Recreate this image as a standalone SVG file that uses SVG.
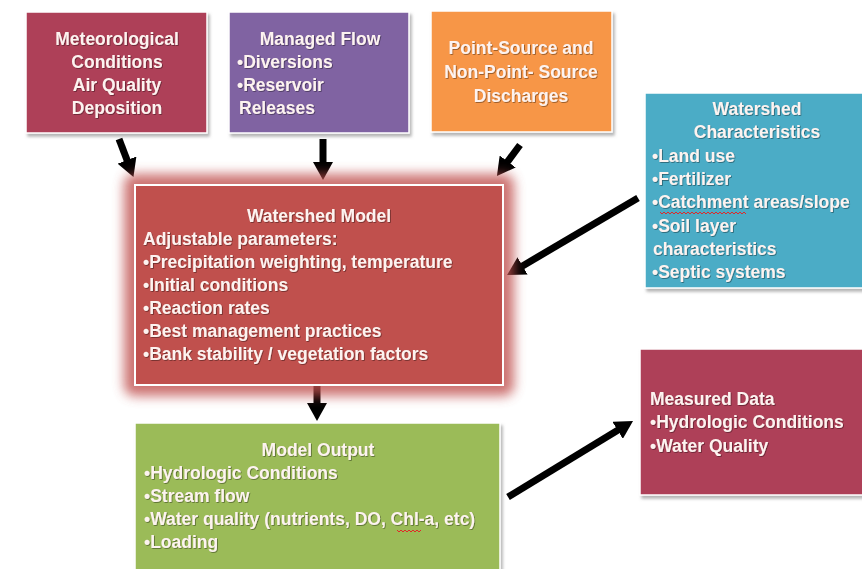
<svg xmlns="http://www.w3.org/2000/svg" width="862" height="569" viewBox="0 0 862 569">
<defs>
<filter id="sh" x="-10%" y="-10%" width="120%" height="130%">
<feDropShadow dx="2" dy="3" stdDeviation="1.5" flood-color="#777" flood-opacity="0.55"/>
</filter>
<filter id="glow" x="-20%" y="-30%" width="140%" height="160%">
<feGaussianBlur stdDeviation="6"/>
</filter>
<filter id="ts" x="-5%" y="-20%" width="110%" height="150%">
<feDropShadow dx="0.8" dy="0.8" stdDeviation="0.4" flood-color="#000" flood-opacity="0.45"/>
</filter>
<marker id="ah" viewBox="0 0 18 20" markerWidth="18" markerHeight="20" refX="1" refY="10" orient="auto" markerUnits="userSpaceOnUse">
<path d="M0,0 L18,10 L0,20 z" fill="#000"/>
</marker>
<style>
.box{stroke:#fff;stroke-width:1.5;filter:url(#sh)}
.t{font-family:"Liberation Sans",Arial,sans-serif;font-weight:bold;font-size:17.5px;fill:#FDF3F0;filter:url(#ts)}
.c{text-anchor:middle}
.arr{stroke:#000;stroke-width:7;fill:none;marker-end:url(#ah)}
.sq{stroke:#E02828;stroke-width:1;fill:none}
</style>
</defs>
<rect width="862" height="569" fill="#fff"/>
<g id="connectors">
<line class="arr" x1="119" y1="139" x2="127.4" y2="161"/>
<line class="arr" x1="323" y1="139" x2="323" y2="163"/>
<line class="arr" x1="520" y1="145" x2="507.1" y2="162.3"/>
<line class="arr" x1="638" y1="198" x2="521.7" y2="266.4"/>
<line class="arr" x1="317" y1="386" x2="317" y2="404"/>
<line class="arr" x1="508" y1="497" x2="618.5" y2="429.8"/>
</g>
<g id="meteorological">
<rect class="box" x="26" y="12" width="181" height="121" fill="#AE4159"/>
<text class="t c" x="117" y="45">Meteorological</text>
<text class="t c" x="117" y="68">Conditions</text>
<text class="t c" x="117" y="91">Air Quality</text>
<text class="t c" x="117" y="114">Deposition</text>
</g>
<g id="managed-flow">
<rect class="box" x="229" y="12" width="180" height="121" fill="#8064A2"/>
<text class="t c" x="320" y="45">Managed Flow</text>
<text class="t" x="237" y="68">•Diversions</text>
<text class="t" x="237" y="91">•Reservoir</text>
<text class="t" x="239" y="114">Releases</text>
</g>
<g id="point-source">
<rect class="box" x="431" y="11" width="181" height="121" fill="#F79646"/>
<text class="t c" x="521" y="54">Point-Source and</text>
<text class="t c" x="521" y="78">Non-Point- Source</text>
<text class="t c" x="521" y="102">Discharges</text>
</g>
<g id="watershed-characteristics">
<rect class="box" x="645" y="93" width="230" height="195" fill="#4BACC6"/>
<text class="t c" x="757" y="115">Watershed</text>
<text class="t c" x="757" y="138">Characteristics</text>
<text class="t" x="652" y="162">•Land use</text>
<text class="t" x="652" y="185">•Fertilizer</text>
<text class="t" x="652" y="208">•Catchment areas/slope</text>
<path class="sq" d="M660,212 l2,2 l2,-2 l2,2 l2,-2 l2,2 l2,-2 l2,2 l2,-2 l2,2 l2,-2 l2,2 l2,-2 l2,2 l2,-2 l2,2 l2,-2 l2,2 l2,-2 l2,2 l2,-2 l2,2 l2,-2 l2,2 l2,-2 l2,2 l2,-2 l2,2 l2,-2 l2,2 l2,-2 l2,2 l2,-2 l2,2 l2,-2 l2,2 l2,-2 l2,2 l2,-2 l2,2 l2,-2 l2,2 l2,-2 l2,2"/>
<text class="t" x="652" y="232">•Soil layer</text>
<text class="t" x="653" y="255">characteristics</text>
<text class="t" x="652" y="278">•Septic systems</text>
</g>
<g id="watershed-model">
<rect x="124" y="174" width="390" height="222" rx="10" fill="#C0504D" opacity="0.8" filter="url(#glow)"/>
<rect x="135" y="185" width="368" height="200" fill="#C0504D" stroke="#fff" stroke-width="2"/>
<text class="t c" x="319" y="222">Watershed Model</text>
<text class="t" x="143" y="245">Adjustable parameters:</text>
<text class="t" x="143" y="268">•Precipitation weighting, temperature</text>
<text class="t" x="143" y="291">•Initial conditions</text>
<text class="t" x="143" y="314">•Reaction rates</text>
<text class="t" x="143" y="337">•Best management practices</text>
<text class="t" x="143" y="360">•Bank stability / vegetation factors</text>
</g>
<g id="model-output">
<rect class="box" x="135" y="423" width="365" height="160" fill="#9BBB59"/>
<text class="t c" x="318" y="456">Model Output</text>
<text class="t" x="144" y="479">•Hydrologic Conditions</text>
<text class="t" x="144" y="502">•Stream flow</text>
<text class="t" x="144" y="525">•Water quality (nutrients, DO, Chl-a, etc)</text>
<path class="sq" d="M397,530 l2,2 l2,-2 l2,2 l2,-2 l2,2 l2,-2 l2,2 l2,-2 l2,2 l2,-2 l2,2 l2,-2"/>
<text class="t" x="144" y="548">•Loading</text>
</g>
<g id="measured-data">
<rect class="box" x="640" y="349" width="235" height="146" fill="#AE4159"/>
<text class="t" x="650" y="405">Measured Data</text>
<text class="t" x="650" y="428">•Hydrologic Conditions</text>
<text class="t" x="650" y="452">•Water Quality</text>
</g>
</svg>
